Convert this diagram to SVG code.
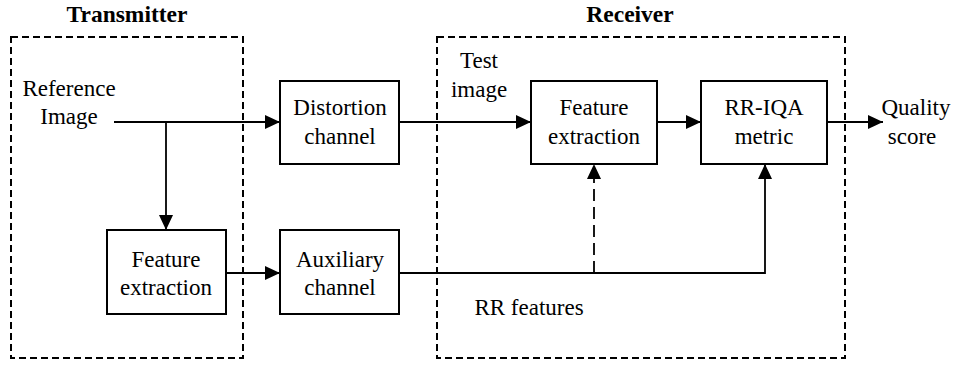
<svg xmlns="http://www.w3.org/2000/svg" width="957" height="365" viewBox="0 0 957 365">
<style>
text{font-family:'Liberation Serif','Times New Roman','DejaVu Serif',serif;font-size:23px;fill:#000;text-anchor:middle}
.title{font-weight:bold;font-size:23.5px}
.box{fill:#fff;stroke:#000;stroke-width:2}
.group{fill:none;stroke:#000;stroke-width:2;stroke-dasharray:7,4}
.ln{fill:none;stroke:#000;stroke-width:1.8}
.dash{stroke-dasharray:12,6}
</style>
<defs>
<marker id="ah" markerUnits="userSpaceOnUse" markerWidth="16" markerHeight="14" refX="15" refY="7" orient="auto">
<path d="M0,0 L15,7 L0,14 Z" fill="#000"/>
</marker>
</defs>
<rect width="957" height="365" fill="#fff"/>
<g id="transmitter">
<rect class="group" x="11" y="37" width="232" height="321"/>
<text class="title" x="127" y="22">Transmitter</text>
</g>
<g id="receiver">
<rect class="group" x="437" y="37" width="408" height="321"/>
<text class="title" x="630" y="22">Receiver</text>
</g>
<g id="connectors">
<path class="ln" d="M114,122 H280" marker-end="url(#ah)"/>
<path class="ln" d="M166,122 V230" marker-end="url(#ah)"/>
<path class="ln" d="M399,122 H531" marker-end="url(#ah)"/>
<path class="ln" d="M657,122 H701" marker-end="url(#ah)"/>
<path class="ln" d="M827,122 H883" marker-end="url(#ah)"/>
<path class="ln" d="M226,273 H280" marker-end="url(#ah)"/>
<path class="ln" d="M399,273 H765 V164" marker-end="url(#ah)"/>
<path class="ln dash" d="M594,273 V164" marker-end="url(#ah)"/>
</g>
<g id="reference-image">
<text x="69" y="96">Reference</text>
<text x="69" y="124">Image</text>
</g>
<g id="distortion-channel">
<rect class="box" x="280" y="81" width="119" height="83"/>
<text x="340" y="115">Distortion</text>
<text x="340" y="144">channel</text>
</g>
<g id="feature-extraction-tx">
<rect class="box" x="107" y="230" width="119" height="84"/>
<text x="166" y="267">Feature</text>
<text x="166" y="295">extraction</text>
</g>
<g id="auxiliary-channel">
<rect class="box" x="280" y="230" width="119" height="84"/>
<text x="340" y="267">Auxiliary</text>
<text x="340" y="295">channel</text>
</g>
<g id="feature-extraction-rx">
<rect class="box" x="531" y="81" width="126" height="83"/>
<text x="594" y="115">Feature</text>
<text x="594" y="144">extraction</text>
</g>
<g id="rr-iqa-metric">
<rect class="box" x="701" y="81" width="126" height="83"/>
<text x="764" y="115">RR-IQA</text>
<text x="764" y="144">metric</text>
</g>
<g id="labels">
<text x="479" y="68">Test</text>
<text x="479" y="97">image</text>
<text x="916" y="115">Quality</text>
<text x="912" y="144">score</text>
<text x="529" y="315">RR features</text>
</g>
</svg>
